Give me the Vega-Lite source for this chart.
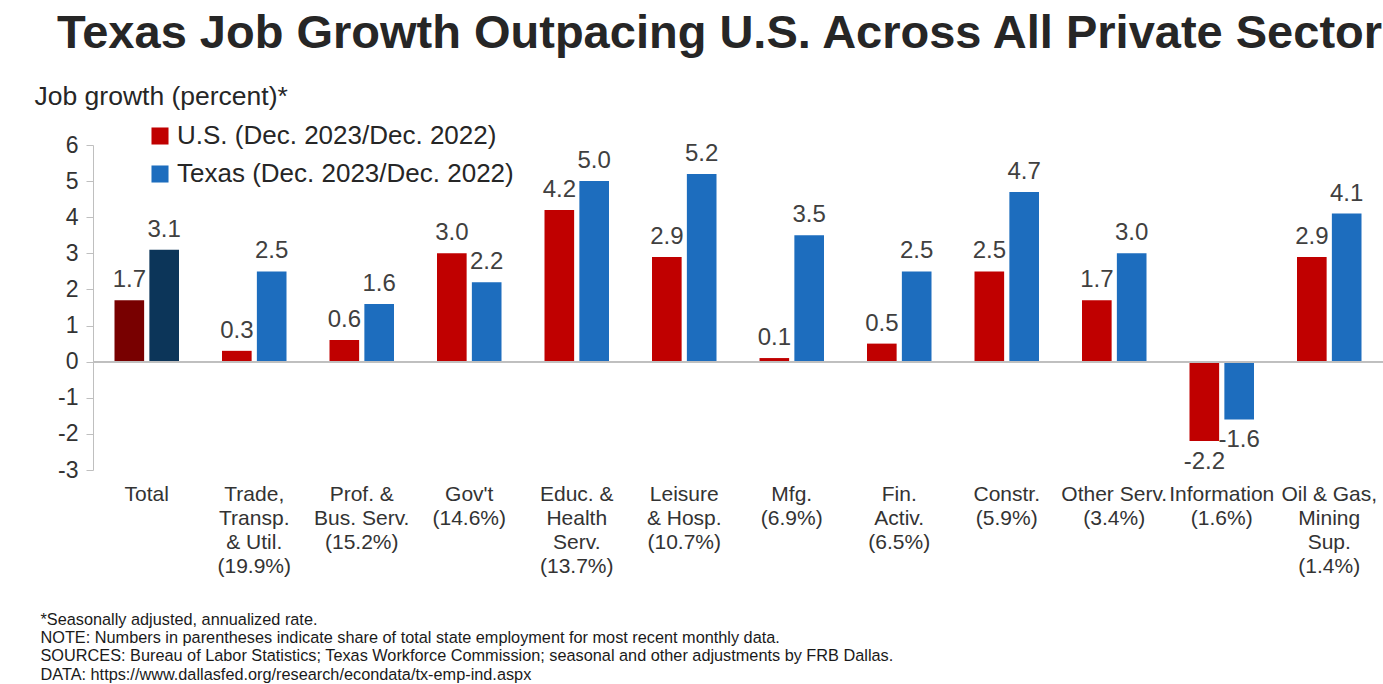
{
  "$schema": "https://vega.github.io/schema/vega-lite/v6.json",
  "width": 1290,
  "height": 325,
  "autosize": {"type": "none"},
  "padding": {"left": 93, "top": 145, "right": 0, "bottom": 214},
  "background": "white",
  "config": {
    "font": "Liberation Sans",
    "view": {"stroke": null},
    "locale": {"number": {"decimal": ".", "thousands": ",", "grouping": [3], "currency": ["$", ""], "minus": "-"}}
  },
  "title": {
    "text": "Texas Job Growth Outpacing U.S. Across All Private Sector",
    "fontSize": 47,
    "fontWeight": "bold",
    "color": "#262626",
    "anchor": "start",
    "frame": "group",
    "dx": -36,
    "offset": 25
  },
  "data": {
    "values": [
      {"category": "Total", "series": "U.S.", "value": 1.7},
      {"category": "Total", "series": "Texas", "value": 3.1},
      {"category": "Trade,\nTransp.\n& Util.\n(19.9%)", "series": "U.S.", "value": 0.3},
      {"category": "Trade,\nTransp.\n& Util.\n(19.9%)", "series": "Texas", "value": 2.5},
      {"category": "Prof. &\nBus. Serv.\n(15.2%)", "series": "U.S.", "value": 0.6},
      {"category": "Prof. &\nBus. Serv.\n(15.2%)", "series": "Texas", "value": 1.6},
      {"category": "Gov't\n(14.6%)", "series": "U.S.", "value": 3.0},
      {"category": "Gov't\n(14.6%)", "series": "Texas", "value": 2.2},
      {"category": "Educ. &\nHealth\nServ.\n(13.7%)", "series": "U.S.", "value": 4.2},
      {"category": "Educ. &\nHealth\nServ.\n(13.7%)", "series": "Texas", "value": 5.0},
      {"category": "Leisure\n& Hosp.\n(10.7%)", "series": "U.S.", "value": 2.9},
      {"category": "Leisure\n& Hosp.\n(10.7%)", "series": "Texas", "value": 5.2},
      {"category": "Mfg.\n(6.9%)", "series": "U.S.", "value": 0.1},
      {"category": "Mfg.\n(6.9%)", "series": "Texas", "value": 3.5},
      {"category": "Fin.\nActiv.\n(6.5%)", "series": "U.S.", "value": 0.5},
      {"category": "Fin.\nActiv.\n(6.5%)", "series": "Texas", "value": 2.5},
      {"category": "Constr.\n(5.9%)", "series": "U.S.", "value": 2.5},
      {"category": "Constr.\n(5.9%)", "series": "Texas", "value": 4.7},
      {"category": "Other Serv.\n(3.4%)", "series": "U.S.", "value": 1.7},
      {"category": "Other Serv.\n(3.4%)", "series": "Texas", "value": 3.0},
      {"category": "Information\n(1.6%)", "series": "U.S.", "value": -2.2},
      {"category": "Information\n(1.6%)", "series": "Texas", "value": -1.6},
      {"category": "Oil & Gas,\nMining\nSup.\n(1.4%)", "series": "U.S.", "value": 2.9},
      {"category": "Oil & Gas,\nMining\nSup.\n(1.4%)", "series": "Texas", "value": 4.1}
    ]
  },
  "encoding": {
    "x": {
      "field": "category",
      "type": "nominal",
      "sort": null,
      "scale": {"paddingInner": 0.4, "paddingOuter": 0.2},
      "axis": {
        "labelExpr": "split(datum.label, '\\n')",
        "labelAngle": 0,
        "labelFontSize": 21,
        "labelColor": "#333333",
        "labelLineHeight": 24,
        "labelPadding": 13,
        "labelOverlap": false,
        "labelLimit": 300,
        "domain": false,
        "ticks": false,
        "title": [
          "*Seasonally adjusted, annualized rate.",
          "NOTE: Numbers in parentheses indicate share of total state employment for most recent monthly data.",
          "SOURCES: Bureau of Labor Statistics; Texas Workforce Commission; seasonal and other adjustments by FRB Dallas.",
          "DATA:  https://www.dallasfed.org/research/econdata/tx-emp-ind.aspx"
        ],
        "titleFontSize": 16.3,
        "titleFontWeight": "normal",
        "titleColor": "#1a1a1a",
        "titleAlign": "left",
        "titleBaseline": "top",
        "titleX": -53,
        "titleY": 141,
        "titleLineHeight": 18.4
      }
    },
    "xOffset": {"field": "series", "sort": ["U.S.", "Texas"], "scale": {"paddingInner": 0.15}},
    "y": {
      "field": "value",
      "type": "quantitative",
      "scale": {"domain": [-3, 6], "nice": false},
      "axis": {
        "values": [-3, -2, -1, 0, 1, 2, 3, 4, 5, 6],
        "grid": false,
        "labelFontSize": 23,
        "labelColor": "#333333",
        "labelPadding": 8,
        "domainColor": "#BFBFBF",
        "tickColor": "#BFBFBF",
        "tickSize": 7,
        "title": "Job growth (percent)*",
        "titleAngle": 0,
        "titleX": -59,
        "titleY": -41,
        "titleAlign": "left",
        "titleBaseline": "alphabetic",
        "titleFontSize": 26.5,
        "titleFontWeight": "normal",
        "titleColor": "#262626"
      }
    }
  },
  "layer": [
    {
      "mark": {"type": "bar"},
      "encoding": {
        "color": {
          "condition": [
            {"test": "datum.category === 'Total' && datum.series === 'U.S.'", "value": "#780000"},
            {"test": "datum.category === 'Total' && datum.series === 'Texas'", "value": "#0C3559"}
          ],
          "field": "series",
          "type": "nominal",
          "sort": ["U.S.", "Texas"],
          "scale": {"domain": ["U.S.", "Texas"], "range": ["#C00000", "#1D6DBE"]},
          "legend": {
            "orient": "none",
            "legendX": 54,
            "legendY": -22,
            "title": null,
            "labelExpr": "datum.label + ' (Dec. 2023/Dec. 2022)'",
            "labelFontSize": 26,
            "labelColor": "#262626",
            "labelLimit": 500,
            "symbolType": "square",
            "symbolSize": 290,
            "symbolStrokeWidth": 0,
            "rowPadding": 12,
            "labelOffset": 4,
            "direction": "vertical"
          }
        }
      }
    },
    {
      "mark": {"type": "rule", "color": "#BFBFBF", "strokeWidth": 1.5},
      "encoding": {"x": null, "xOffset": null, "y": {"datum": 0}}
    },
    {
      "transform": [{"filter": "datum.value >= 0"}],
      "mark": {"type": "text", "fontSize": 24, "color": "#404040", "baseline": "bottom", "dy": -8},
      "encoding": {"text": {"field": "value", "type": "quantitative", "format": ".1f"}}
    },
    {
      "transform": [{"filter": "datum.value < 0"}],
      "mark": {"type": "text", "fontSize": 24, "color": "#404040", "baseline": "top", "dy": 9},
      "encoding": {"text": {"field": "value", "type": "quantitative", "format": ".1f"}}
    }
  ]
}
